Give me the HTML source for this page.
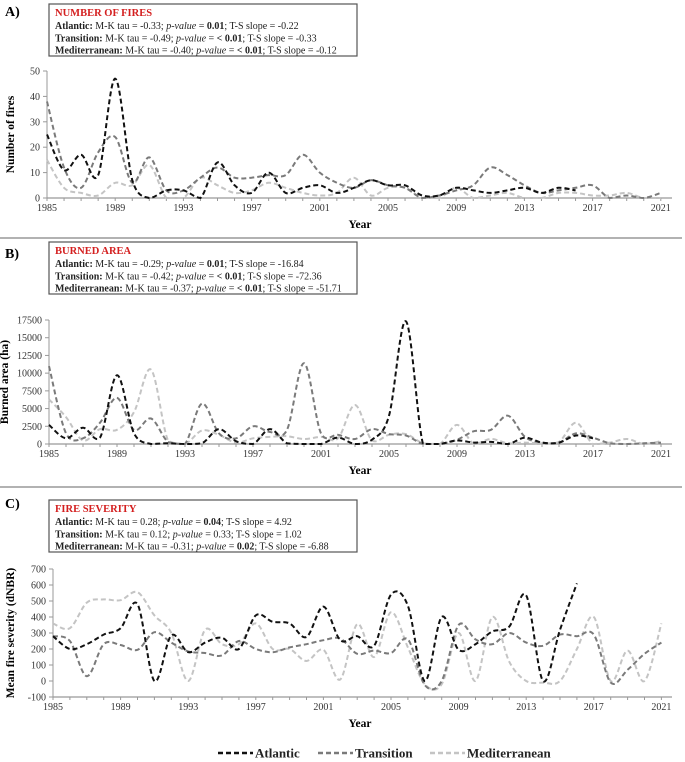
<!DOCTYPE html>
<html><head><meta charset="utf-8"><style>
body{margin:0;background:#fff;}
svg{display:block;font-family:"Liberation Serif",serif;}
</style></head><body>
<svg id="fig" width="685" height="762" viewBox="0 0 685 762"></svg>
<script>
const years = Array.from({length:37},(_,i)=>1985+i);
const tickYears = [1985,1989,1993,1997,2001,2005,2009,2013,2017,2021];
// Panel A: number of fires
const firesAtlantic = [25,11,17,9,47,7,0,3,3,0,14,5,2,10,2,4,5,2,4,7,5,5,1,1,4,3,2,3,4,2,4,3];
const firesTransition = [38,12,4,18,24,6,16,3,3,8,12,8,8,9,9,17,10,6,4,7,5,4,0,1,3,5,12,9,5,2,3,4,5,0,1,0,2];
const firesMediterranean = [15,4,2,1,6,5,13,0,0,8,5,2,3,6,4,2,1,2,8,1,4,4,0,0,4,0,1,2,0,0,2,2,1,1,2,0,0];
const firesTicks = [0,10,20,30,40,50];
// Panel B: burned area
const areaAtlantic = [2700,800,2300,900,9700,1500,0,100,0,100,2100,400,0,2100,100,0,0,900,0,600,4000,17300,0,0,500,200,300,0,900,200,200,1200,800];
const areaTransition = [11000,1500,800,3000,6500,2000,3600,300,0,5700,1500,800,2500,1700,2000,11400,1500,1300,700,2100,1400,1200,0,0,600,1800,2000,4000,1000,200,200,1500,900,100,0,100,200];
const areaMediterranean = [6300,3800,500,2100,2000,4500,10500,500,0,1900,1300,200,800,1000,1100,700,1000,800,5500,500,1300,1400,100,0,2700,0,700,100,200,100,300,3000,0,200,700,0,400];
const areaTicks = [0,2500,5000,7500,10000,12500,15000,17500];
// Panel C: fire severity
const sevAtlantic = [280,200,230,290,330,480,0,285,180,240,270,200,410,370,360,275,465,255,280,220,540,470,0,400,195,230,310,340,535,0,320,610];
const sevTransition = [280,250,30,230,225,195,305,240,185,175,160,250,200,180,210,230,255,265,170,190,175,260,-25,0,350,260,230,300,240,220,290,280,290,-10,70,170,240];
const sevMediterranean = [360,330,490,510,505,555,410,300,0,320,230,230,360,200,200,125,195,10,355,150,430,210,-20,-20,300,0,400,120,0,-10,0,200,400,0,190,0,360];
const sevTicks = [-100,0,100,200,300,400,500,600,700];
</script>
<script>
const NS="http://www.w3.org/2000/svg";
const svg=document.getElementById('fig');
function mk(tag,attrs,parent,text){const e=document.createElementNS(NS,tag);for(const k in attrs)e.setAttribute(k,attrs[k]);if(text!==undefined)e.textContent=text;(parent||svg).appendChild(e);return e;}
function smooth(pts,yMaxPx){
  if(pts.length<2)return '';
  const cl=v=>Math.min(v,yMaxPx);
  let d=`M${pts[0][0].toFixed(1)},${pts[0][1].toFixed(1)}`;
  for(let i=0;i<pts.length-1;i++){
    const p0=pts[i-1]||pts[i],p1=pts[i],p2=pts[i+1],p3=pts[i+2]||p2;
    const c1=[p1[0]+(p2[0]-p0[0])/6,cl(p1[1]+(p2[1]-p0[1])/6)];
    const c2=[p2[0]-(p3[0]-p1[0])/6,cl(p2[1]-(p3[1]-p1[1])/6)];
    d+=`C${c1[0].toFixed(1)},${c1[1].toFixed(1)} ${c2[0].toFixed(1)},${c2[1].toFixed(1)} ${p2[0].toFixed(1)},${p2[1].toFixed(1)}`;
  }
  return d;
}
function panel(cfg){
  const g=mk('g',{});
  
  
  const x=yr=>cfg.x0+(yr-1985)*cfg.step;
  const y=v=>cfg.yb-(v-cfg.ymin)/(cfg.ymax-cfg.ymin)*(cfg.yb-cfg.yt);
  const lab=mk('text',{x:5,y:cfg.labelY,'font-size':14,'font-weight':'bold'},g,cfg.letter);
  
  
  const box=mk('g',{},g);
  
  
  mk('rect',{x:cfg.bx,y:cfg.by,width:308,height:52,fill:'#fff',stroke:'#555','stroke-width':1.2},box);
  const t=mk('text',{x:cfg.bx+6,y:cfg.by+12,'font-size':10.5,'font-weight':'bold',fill:'#d42020'},box,cfg.title);
  
  
  cfg.lines.forEach((ln,i)=>{
    const tx=mk('text',{x:cfg.bx+6,y:cfg.by+25+i*12.3,'font-size':10,fill:'#222'},box);
    
    
    ln.forEach(([s,st])=>{const ts=mk('tspan',{},tx,s);if(st.includes('b'))ts.setAttribute('font-weight','bold');if(st.includes('i'))ts.setAttribute('font-style','italic');});
  });
  mk('line',{x1:cfg.x0,y1:cfg.yt,x2:cfg.x0,y2:cfg.yb,stroke:'#999','stroke-width':1},g);
  const xa=mk('line',{x1:cfg.x0,y1:cfg.yb,x2:672,y2:cfg.yb,stroke:'#999','stroke-width':1.2},g);
  
  
  cfg.ticks.forEach(v=>{
    mk('line',{x1:cfg.x0-4,y1:y(v),x2:cfg.x0,y2:y(v),stroke:'#999'},g);
    const tl=mk('text',{x:cfg.x0-7,y:y(v)+3.5,'font-size':10,'text-anchor':'end',fill:'#333'},g,String(v));
    
    
  });
  years.forEach(yr=>{mk('line',{x1:x(yr),y1:cfg.yb,x2:x(yr),y2:cfg.yb+3,stroke:'#999'},g);});
  tickYears.forEach(yr=>{
    const tl=mk('text',{x:x(yr),y:cfg.yb+13,'font-size':10,'text-anchor':'middle',fill:'#333'},g,String(yr));
    
    
  });
  const xt=mk('text',{x:360,y:cfg.yb+30,'font-size':11.5,'font-weight':'bold','text-anchor':'middle'},g,'Year');
  
  
  const cy=(cfg.yt+cfg.yb)/2;
  const yt=mk('text',{x:cfg.ytx,y:cy,'font-size':11.5,'font-weight':'bold','text-anchor':'middle',transform:`rotate(-90 ${cfg.ytx} ${cy})`},g,cfg.ytitle);
  
  
  const series=[[cfg.med,'#c4c4c4','mediterranean'],[cfg.tra,'#7a7a7a','transition'],[cfg.atl,'#111','atlantic']];
  series.forEach(([arr,col,nm])=>{
    const pts=arr.map((v,i)=>[x(1985+i),y(v)]);
    const p=mk('path',{d:smooth(pts,cfg.yb),fill:'none',stroke:col,'stroke-width':2,'stroke-dasharray':'5,3'},g);
    
    
  });
}
panel({name:'number-of-fires',letter:'A)',labelY:16,bx:49,by:4,title:'NUMBER OF FIRES',
  lines:[[['Atlantic:','b'],[' M-K tau = -0.33; ',''],['p-value','i'],[' = ',''],['0.01','b'],['; T-S slope = -0.22','']],
         [['Transition:','b'],[' M-K tau = -0.49; ',''],['p-value','i'],[' = ',''],['< 0.01','b'],['; T-S slope = -0.33','']],
         [['Mediterranean:','b'],[' M-K tau = -0.40; ',''],['p-value','i'],[' = ',''],['< 0.01','b'],['; T-S slope = -0.12','']]],
  x0:47,step:17.05,yt:71,yb:198,ymin:0,ymax:50,ticks:firesTicks,ytx:14,ytitle:'Number of fires',
  atl:firesAtlantic,tra:firesTransition,med:firesMediterranean});
panel({name:'burned-area',letter:'B)',labelY:258,bx:49,by:242,title:'BURNED AREA',
  lines:[[['Atlantic:','b'],[' M-K tau = -0.29; ',''],['p-value','i'],[' = ',''],['0.01','b'],['; T-S slope = -16.84','']],
         [['Transition:','b'],[' M-K tau = -0.42; ',''],['p-value','i'],[' = ',''],['< 0.01','b'],['; T-S slope = -72.36','']],
         [['Mediterranean:','b'],[' M-K tau = -0.37; ',''],['p-value','i'],[' = ',''],['< 0.01','b'],['; T-S slope = -51.71','']]],
  x0:49,step:17.0,yt:320,yb:444,ymin:0,ymax:17500,ticks:areaTicks,ytx:8,ytitle:'Burned area (ha)',
  atl:areaAtlantic,tra:areaTransition,med:areaMediterranean});
panel({name:'fire-severity',letter:'C)',labelY:508,bx:49,by:500,title:'FIRE SEVERITY',
  lines:[[['Atlantic:','b'],[' M-K tau = 0.28; ',''],['p-value','i'],[' = ',''],['0.04','b'],['; T-S slope = 4.92','']],
         [['Transition:','b'],[' M-K tau = 0.12; ',''],['p-value','i'],[' = 0.33; T-S slope = 1.02','']],
         [['Mediterranean:','b'],[' M-K tau = -0.31; ',''],['p-value','i'],[' = ',''],['0.02','b'],['; T-S slope = -6.88','']]],
  x0:53,step:16.9,yt:569,yb:697,ymin:-100,ymax:700,ticks:sevTicks,ytx:14,ytitle:'Mean fire severity (dNBR)',
  atl:sevAtlantic,tra:sevTransition,med:sevMediterranean});
[238,487].forEach(yy=>{const l=mk('line',{x1:0,y1:yy,x2:682,y2:yy,stroke:'#999','stroke-width':1.5});
  
  });
const lg=mk('g',{});


[['Atlantic','#111',218],['Transition','#7a7a7a',318],['Mediterranean','#c4c4c4',430]].forEach(([n,c,lx])=>{
  const e=mk('g',{},lg);
  
  
  mk('line',{x1:lx,y1:753,x2:lx+35,y2:753,stroke:c,'stroke-width':2.5,'stroke-dasharray':'5,3'},e);
  mk('text',{x:lx+37,y:757.5,'font-size':13,'font-weight':'bold',fill:'#222'},e,n);
});
</script>
</body></html>
